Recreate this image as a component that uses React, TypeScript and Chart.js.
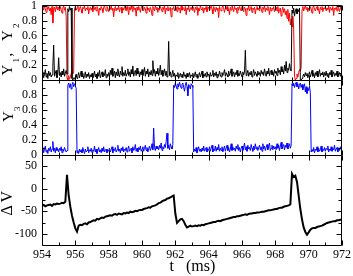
import React, { useEffect, useRef } from 'react';
import { Chart, registerables } from 'chart.js';

Chart.register(...registerables);

// sampling grids of the traces (ms)
const T_START = 954;
const T_STEP_FAST = 0.05; // Y1, Y2, Y3
const T_STEP_DV = 0.1; // ΔV

// Y1 (black, top panel), one row per ms
const Y1 = [
  0.05, 0.11, 0.03, 0.08, 0.14, 0.04, 0.09, 0.02, 0.12, 0.06, 0.1, 0.04, 0.07, 0.18, 0.47, 0.05, 0.09, 0.13, 0.03, 0.08,
  0.3, 0.06, 0.1, 0.04, 0.12, 0.07, 0.15, 0.05, 0.09, 0.13, 0.08, 0.96, 0.92, 0.99, 0.94, 0.97, 0.02, 0.0, 0.03, 0.01,
  0.04, 0.08, 0.02, 0.06, 0.1, 0.03, 0.07, 0.12, 0.04, 0.09, 0.02, 0.06, 0.11, 0.03, 0.08, 0.05, 0.1, 0.02, 0.07, 0.04,
  0.09, 0.03, 0.06, 0.12, 0.04, 0.08, 0.02, 0.1, 0.05, 0.13, 0.03, 0.07, 0.11, 0.04, 0.09, 0.06, 0.14, 0.03, 0.08, 0.05,
  0.1, 0.04, 0.13, 0.07, 0.16, 0.05, 0.09, 0.12, 0.03, 0.11, 0.06, 0.15, 0.08, 0.04, 0.12, 0.07, 0.18, 0.05, 0.1, 0.06,
  0.13, 0.05, 0.09, 0.15, 0.06, 0.11, 0.04, 0.14, 0.08, 0.19, 0.05, 0.1, 0.13, 0.06, 0.16, 0.08, 0.12, 0.04, 0.11, 0.07,
  0.14, 0.06, 0.1, 0.17, 0.05, 0.12, 0.08, 0.15, 0.04, 0.11, 0.07, 0.13, 0.06, 0.26, 0.09, 0.14, 0.05, 0.12, 0.08, 0.16,
  0.06, 0.11, 0.2, 0.07, 0.13, 0.05, 0.1, 0.15, 0.06, 0.12, 0.04, 0.09, 0.52, 0.06, 0.11, 0.04, 0.08, 0.13, 0.05, 0.09,
  0.03, 0.07, 0.05, 0.1, 0.02, 0.06, 0.09, 0.04, 0.08, 0.03, 0.11, 0.05, 0.07, 0.02, 0.09, 0.04, 0.06, 0.1, 0.03, 0.07,
  0.05, 0.09, 0.03, 0.07, 0.11, 0.04, 0.08, 0.02, 0.06, 0.1, 0.04, 0.07, 0.12, 0.03, 0.08, 0.05, 0.09, 0.04, 0.11, 0.06,
  0.08, 0.03, 0.1, 0.05, 0.07, 0.13, 0.04, 0.09, 0.06, 0.11, 0.03, 0.08, 0.05, 0.12, 0.07, 0.04, 0.1, 0.06, 0.09, 0.14,
  0.05, 0.1, 0.07, 0.04, 0.12, 0.06, 0.09, 0.15, 0.05, 0.08, 0.11, 0.04, 0.1, 0.07, 0.13, 0.05, 0.09, 0.06, 0.12, 0.08,
  0.04, 0.11, 0.07, 0.1, 0.4, 0.06, 0.09, 0.13, 0.05, 0.1, 0.07, 0.12, 0.04, 0.09, 0.14, 0.06, 0.11, 0.08, 0.05, 0.12,
  0.07, 0.1, 0.05, 0.13, 0.08, 0.11, 0.06, 0.15, 0.09, 0.05, 0.12, 0.08, 0.16, 0.06, 0.1, 0.13, 0.07, 0.11, 0.05, 0.14,
  0.09, 0.12, 0.06, 0.16, 0.1, 0.13, 0.07, 0.18, 0.11, 0.14, 0.08, 0.2, 0.12, 0.25, 0.1, 0.16, 0.13, 0.22, 0.15, 0.12,
  0.94, 0.9, 0.97, 0.86, 0.93, 0.96, 0.89, 0.95, 0.92, 0.97, 0.0, 0.0, 0.02, 0.05, 0.08, 0.04, 0.1, 0.06, 0.09, 0.03,
  0.07, 0.11, 0.04, 0.08, 0.13, 0.05, 0.09, 0.03, 0.1, 0.06, 0.12, 0.04, 0.08, 0.14, 0.05, 0.09, 0.07, 0.11, 0.04, 0.1,
  0.06, 0.12, 0.05, 0.09, 0.03, 0.1, 0.07, 0.13, 0.04, 0.08, 0.11, 0.05, 0.09, 0.06, 0.12, 0.04, 0.08, 0.1, 0.05, 0.09,
  0.06,
];

// Y2 (red, top panel), one row per ms
const Y2 = [
  0.97, 0.99, 0.94, 1.0, 0.96, 0.91, 0.98, 0.95, 0.99, 0.93, 0.97, 0.88, 0.99, 0.77, 0.95, 0.98, 0.92, 0.99, 0.96, 0.94,
  0.98, 0.93, 0.99, 0.95, 0.9, 0.97, 1.0, 0.94, 0.98, 0.86, 0.03, 0.0, 0.06, 0.01, 0.04, 0.09, 0.12, 0.08, 0.11, 0.96,
  0.99, 0.94, 0.97, 1.0, 0.92, 0.96, 0.99, 0.95, 0.9, 0.98, 0.96, 1.0, 0.93, 0.97, 0.95, 0.99, 0.89, 0.96, 0.98, 0.94,
  0.97, 0.92, 1.0, 0.95, 0.98, 0.93, 0.99, 0.96, 0.87, 0.97, 0.94, 0.99, 0.96, 0.91, 0.98, 1.0, 0.95, 0.93, 0.99, 0.96,
  0.92, 0.98, 0.95, 1.0, 0.94, 0.97, 0.85, 0.96, 0.99, 0.93, 0.97, 0.95, 1.0, 0.92, 0.96, 0.98, 0.9, 0.97, 0.94, 0.99,
  0.96, 0.93, 0.99, 0.95, 0.88, 0.98, 0.94, 1.0, 0.96, 0.92, 0.99, 0.95, 0.97, 0.86, 0.98, 0.94, 0.99, 0.96, 0.91, 0.97,
  1.0, 0.95, 0.93, 0.98, 0.96, 0.9, 0.99, 0.94, 0.97, 0.92, 0.98, 0.95, 0.87, 0.99, 0.96, 0.93, 1.0, 0.95, 0.98, 0.91,
  0.97, 0.94, 0.99, 0.96, 0.92, 0.98, 0.95, 1.0, 0.89, 0.97, 0.94, 0.99, 0.93, 0.96, 0.98, 0.85, 0.97, 0.95, 0.99, 0.93,
  0.96, 0.98, 0.92, 0.99, 0.95, 0.97, 0.9, 1.0, 0.94, 0.98, 0.96, 0.93, 0.99, 0.88, 0.97, 0.95, 1.0, 0.92, 0.96, 0.98,
  0.94, 0.99, 0.96, 0.91, 0.98, 0.95, 0.99, 0.87, 0.97, 0.93, 1.0, 0.96, 0.94, 0.98, 0.9, 0.97, 0.95, 0.99, 0.92, 0.96,
  0.98, 0.93, 0.97, 1.0, 0.95, 0.89, 0.99, 0.96, 0.92, 0.98, 0.94, 0.97, 0.84, 0.99, 0.95, 0.93, 0.98, 1.0, 0.96, 0.91,
  0.97, 0.95, 0.99, 0.93, 0.96, 0.88, 0.98, 0.94, 1.0, 0.96, 0.92, 0.99, 0.95, 0.97, 0.9, 0.98, 0.94, 0.99, 0.96, 0.93,
  0.99, 0.95, 0.92, 0.98, 0.96, 0.87, 0.97, 0.94, 1.0, 0.93, 0.96, 0.99, 0.91, 0.97, 0.95, 0.98, 0.89, 0.96, 0.99, 0.94,
  0.97, 0.93, 0.99, 0.96, 0.91, 0.98, 0.95, 1.0, 0.92, 0.97, 0.94, 0.99, 0.96, 0.88, 0.98, 0.93, 0.97, 0.95, 0.99, 0.92,
  0.96, 0.98, 0.93, 0.99, 0.9, 0.95, 0.97, 0.86, 0.94, 0.98, 0.91, 0.96, 0.88, 0.93, 0.83, 0.95, 0.79, 0.9, 0.74, 0.82,
  0.72, 0.86, 0.7, 0.05, 0.0, 0.02, 0.08, 0.04, 0.1, 0.14, 0.12, 0.17, 0.95, 0.99, 0.93, 0.97, 1.0, 0.95, 0.98, 0.92,
  0.97, 0.94, 0.99, 0.96, 0.9, 0.98, 1.0, 0.95, 0.93, 0.97, 0.99, 0.94, 0.96, 0.89, 0.98, 0.95, 0.99, 0.92, 0.97, 0.96,
  0.99, 0.93, 0.97, 0.95, 1.0, 0.91, 0.98, 0.96, 0.94, 0.99, 0.87, 0.97, 0.95, 0.98, 0.93, 0.99, 0.96, 0.92, 0.98, 0.95,
  0.97,
];

// Y3 (blue, middle panel), one row per ms
const Y3 = [
  0.05, 0.1, 0.03, 0.08, 0.12, 0.04, 0.07, 0.02, 0.09, 0.06, 0.11, 0.04, 0.08, 0.18, 0.05, 0.09, 0.03, 0.1, 0.06, 0.08,
  0.04, 0.09, 0.06, 0.11, 0.03, 0.08, 0.05, 0.1, 0.07, 0.04, 0.06, 0.93, 0.96, 0.9, 0.95, 0.88, 0.94, 0.97, 0.91, 0.95,
  0.92, 0.89, 0.03, 0.06, 0.02, 0.08, 0.04, 0.07, 0.03, 0.1, 0.05, 0.02, 0.08, 0.04, 0.06, 0.11, 0.03, 0.07, 0.05, 0.09,
  0.03, 0.07, 0.05, 0.12, 0.04, 0.08, 0.02, 0.06, 0.1, 0.04, 0.07, 0.03, 0.09, 0.05, 0.11, 0.04, 0.06, 0.08, 0.03, 0.07,
  0.05, 0.09, 0.04, 0.07, 0.11, 0.03, 0.08, 0.06, 0.1, 0.04, 0.07, 0.13, 0.05, 0.08, 0.03, 0.09, 0.06, 0.11, 0.04, 0.08,
  0.06, 0.1, 0.04, 0.08, 0.12, 0.05, 0.07, 0.09, 0.03, 0.11, 0.06, 0.08, 0.14, 0.05, 0.09, 0.04, 0.1, 0.07, 0.12, 0.05,
  0.08, 0.11, 0.05, 0.09, 0.13, 0.06, 0.1, 0.04, 0.08, 0.12, 0.06, 0.09, 0.15, 0.07, 0.36, 0.1, 0.06, 0.12, 0.08, 0.11,
  0.07, 0.13, 0.09, 0.16, 0.06, 0.11, 0.08, 0.14, 0.1, 0.18, 0.29, 0.09, 0.13, 0.07, 0.15, 0.11, 0.08, 0.14, 0.93, 0.9,
  0.96, 0.92, 0.88, 0.95, 0.91, 0.97, 0.93, 0.89, 0.94, 0.96, 0.9, 0.85, 0.93, 0.97, 0.91, 0.79, 0.94, 0.92, 0.88, 0.95,
  0.93, 0.9, 0.04, 0.08, 0.05, 0.1, 0.03, 0.07, 0.11, 0.05, 0.08, 0.04, 0.09, 0.06, 0.12, 0.05, 0.07, 0.1, 0.04, 0.08,
  0.06, 0.11, 0.05, 0.09, 0.13, 0.04, 0.08, 0.06, 0.12, 0.05, 0.1, 0.07, 0.14, 0.05, 0.09, 0.06, 0.11, 0.04, 0.08, 0.12,
  0.05, 0.09, 0.13, 0.06, 0.1, 0.04, 0.08, 0.15, 0.06, 0.11, 0.07, 0.09, 0.05, 0.12, 0.08, 0.14, 0.06, 0.1, 0.04, 0.09,
  0.12, 0.06, 0.1, 0.16, 0.07, 0.11, 0.05, 0.13, 0.08, 0.1, 0.06, 0.14, 0.09, 0.05, 0.12, 0.07, 0.15, 0.08, 0.11, 0.06,
  0.1, 0.13, 0.07, 0.11, 0.05, 0.15, 0.08, 0.12, 0.06, 0.1, 0.14, 0.07, 0.11, 0.16, 0.06, 0.09, 0.13, 0.07, 0.12, 0.08,
  0.11, 0.07, 0.15, 0.09, 0.13, 0.06, 0.12, 0.17, 0.08, 0.11, 0.14, 0.07, 0.13, 0.1, 0.16, 0.08, 0.12, 0.15, 0.09, 0.13,
  0.95, 0.92, 0.96, 0.9, 0.94, 0.97, 0.91, 0.95, 0.88, 0.93, 0.96, 0.9, 0.94, 0.87, 0.92, 0.95, 0.84, 0.91, 0.82, 0.89,
  0.86, 0.92, 0.83, 0.04, 0.07, 0.05, 0.1, 0.03, 0.08, 0.06, 0.11, 0.04, 0.09, 0.05, 0.07, 0.12, 0.04, 0.08, 0.06, 0.1,
  0.05, 0.09, 0.07, 0.12, 0.04, 0.08, 0.06, 0.11, 0.05, 0.09, 0.07, 0.13, 0.05, 0.08, 0.1, 0.04, 0.09, 0.06, 0.11, 0.07,
  0.08,
];

// ΔV (black, bottom panel), one row per ms
const DV = [
  -38, -36, -39, -37, -36, -35, -38, -34, -35, -33,
  -34, -33, -31, -32, -29, 31, -15, -40, -60, -75,
  -88, -95, -82, -80, -81, -78, -77, -79, -75, -74,
  -72, -70, -71, -67, -68, -66, -64, -65, -62, -61,
  -60, -59, -60, -57, -56, -58, -55, -56, -57, -54,
  -55, -53, -54, -51, -52, -51, -49, -50, -48, -47,
  -47, -45, -44, -43, -41, -42, -39, -38, -37, -35,
  -32, -31, -28, -26, -25, -22, -21, -19, -17, -15,
  -55, -76, -72, -68, -67, -72, -80, -86, -84, -82,
  -84, -83, -82, -83, -81, -82, -80, -81, -79, -78,
  -77, -76, -75, -74, -74, -72, -71, -72, -70, -69,
  -68, -67, -66, -65, -64, -63, -63, -61, -61, -60,
  -59, -58, -57, -58, -56, -55, -55, -54, -54, -53,
  -53, -52, -51, -51, -50, -49, -48, -48, -47, -46,
  -45, -45, -43, -42, -42, -40, -39, -38, -37, -35,
  33, 26, 29, 15, -15, -45, -68, -86, -96, -102,
  -97, -91, -88, -87, -87, -85, -84, -83, -82, -80,
  -78, -76, -75, -74, -73, -72, -72, -70, -70, -69, -68,
];

const X_MAJOR = [954, 956, 958, 960, 962, 964, 966, 968, 970, 972];
const X_MINOR = [955, 957, 959, 961, 963, 965, 967, 969, 971];
const Y12_MAJOR = [0, 0.2, 0.4, 0.6, 0.8, 1];
const Y3_MAJOR = [0, 0.2, 0.4, 0.6, 0.8];
const FRAC_MINOR = [0.1, 0.3, 0.5, 0.7, 0.9];
const V_MAJOR = [-100, -50, 0, 50];
const V_MINOR = [-75, -25, 25];

const FONT = '"Liberation Serif", "Times New Roman", serif';

const PANELS = [
  { id: 'y12', major: Y12_MAJOR, minor: FRAC_MINOR },
  { id: 'y3', major: Y3_MAJOR, minor: FRAC_MINOR },
  { id: 'yv', major: V_MAJOR, minor: V_MINOR },
];

const toXY = (arr: number[], step: number) =>
  arr.map((v, i) => ({ x: Math.round((T_START + i * step) * 1000) / 1000, y: v }));

function rotText(ctx: CanvasRenderingContext2D, text: string, size: number, bx: number, yStart: number) {
  ctx.save();
  ctx.translate(bx, yStart);
  ctx.rotate(-Math.PI / 2);
  ctx.font = `${size}px ${FONT}`;
  ctx.textAlign = 'left';
  ctx.textBaseline = 'alphabetic';
  ctx.fillText(text, 0, 0);
  ctx.restore();
}

const framePlugin = {
  id: 'panelFrames',
  afterDatasetsDraw(chart: any) {
    const ctx: CanvasRenderingContext2D = chart.ctx;
    const xs = chart.scales.x;
    const L = Math.round(xs.left) + 0.5;
    const R = Math.round(xs.right) - 0.5;
    ctx.save();
    ctx.strokeStyle = '#000';
    ctx.lineWidth = 1;
    ctx.beginPath();
    for (const p of PANELS) {
      const ys = chart.scales[p.id];
      const T = Math.round(ys.top) + 0.5;
      const B = Math.round(ys.bottom) + 0.5;
      ctx.rect(L, T, R - L, B - T);
      const yGroups: [number[], number][] = [[p.major, 5], [p.minor, 3]];
      for (const [vals, len] of yGroups) {
        for (const v of vals) {
          const y = Math.round(ys.getPixelForValue(v)) + 0.5;
          ctx.moveTo(L, y); ctx.lineTo(L + len, y);
          ctx.moveTo(R, y); ctx.lineTo(R - len, y);
        }
      }
      const xGroups: [number[], number][] = [[X_MAJOR, 5], [X_MINOR, 3]];
      for (const [vals, len] of xGroups) {
        for (const v of vals) {
          const x = Math.round(xs.getPixelForValue(v)) + 0.5;
          ctx.moveTo(x, B); ctx.lineTo(x, B - len);
          ctx.moveTo(x, T); ctx.lineTo(x, T + len);
        }
      }
    }
    ctx.stroke();

    // axis titles
    ctx.fillStyle = '#000';
    rotText(ctx, 'Y', 15, 11.7, 75.5);
    rotText(ctx, '1', 9, 18.5, 62.5);
    rotText(ctx, ',', 15, 11.7, 56.5);
    rotText(ctx, 'Y', 15, 11.7, 41);
    rotText(ctx, '2', 9, 18.5, 28);

    rotText(ctx, 'Y', 15, 12.7, 122);
    rotText(ctx, '3', 9, 19.5, 111);

    rotText(ctx, 'Δ', 16, 11.7, 215.5);
    rotText(ctx, 'V', 16, 11.7, 202.5);

    ctx.font = `16px ${FONT}`;
    ctx.textAlign = 'left';
    ctx.textBaseline = 'alphabetic';
    ctx.fillText('t', 169.5, 271);
    ctx.fillText('(ms)', 186, 271);
    ctx.restore();
  },
};

function yAxis(stackWeight: number, min: number, max: number, labels: number[]) {
  return {
    type: 'linear' as const,
    position: 'left' as const,
    stack: 'panels',
    stackWeight,
    min,
    max,
    grid: { display: false, drawTicks: false },
    border: { display: false },
    ticks: {
      color: '#000',
      font: { family: FONT, size: 12 },
      padding: 5,
      autoSkip: false,
      callback: (v: any) => String(v),
    },
    afterBuildTicks: (s: any) => {
      s.ticks = labels.map((v) => ({ value: v }));
    },
    afterFit: (s: any) => {
      s.width = 42;
      s.paddingTop = 0;
      s.paddingBottom = 0;
    },
  };
}

export default function App() {
  const ref = useRef<HTMLCanvasElement>(null);
  useEffect(() => {
    if (!ref.current) return;
    const chart = new Chart(ref.current, {
      type: 'line',
      data: {
        datasets: [
          { label: 'Y1', data: toXY(Y1, T_STEP_FAST), yAxisID: 'y12', borderColor: '#000000', borderWidth: 1 },
          { label: 'Y2', data: toXY(Y2, T_STEP_FAST), yAxisID: 'y12', borderColor: '#ff0000', borderWidth: 1 },
          { label: 'Y3', data: toXY(Y3, T_STEP_FAST), yAxisID: 'y3', borderColor: '#0000ff', borderWidth: 1 },
          { label: 'ΔV', data: toXY(DV, T_STEP_DV), yAxisID: 'yv', borderColor: '#000000', borderWidth: 2 },
        ],
      },
      options: {
        animation: false,
        responsive: false,
        devicePixelRatio: 1,
        events: [],
        elements: { point: { radius: 0 }, line: { tension: 0, fill: false } },
        layout: { padding: { left: 0, right: 11, top: 5, bottom: 0 } },
        plugins: { legend: { display: false }, tooltip: { enabled: false } },
        scales: {
          x: {
            type: 'linear',
            position: 'bottom',
            min: 954,
            max: 972,
            grid: { display: false, drawTicks: false },
            border: { display: false },
            ticks: {
              color: '#000',
              font: { family: FONT, size: 12 },
              padding: 3,
              autoSkip: false,
              maxRotation: 0,
              callback: (v: any) => String(v),
            },
            afterBuildTicks: (s: any) => {
              s.ticks = X_MAJOR.map((v) => ({ value: v }));
            },
            afterFit: (s: any) => {
              s.height = 31;
              s.paddingLeft = 0;
              s.paddingRight = 0;
            },
          },
          yv: yAxis(90, -125, 75, V_MAJOR),
          y3: yAxis(75, 0, 1, Y3_MAJOR),
          y12: yAxis(75, 0, 1.01, Y12_MAJOR),
        } as any,
      },
      plugins: [framePlugin],
    });
    return () => chart.destroy();
  }, []);
  return (
    <div style={{ position: 'fixed', left: 0, top: 0, width: 353, height: 276, background: '#fff' }}>
      <canvas ref={ref} width={353} height={276} style={{ width: 353, height: 276, display: 'block' }} />
    </div>
  );
}
